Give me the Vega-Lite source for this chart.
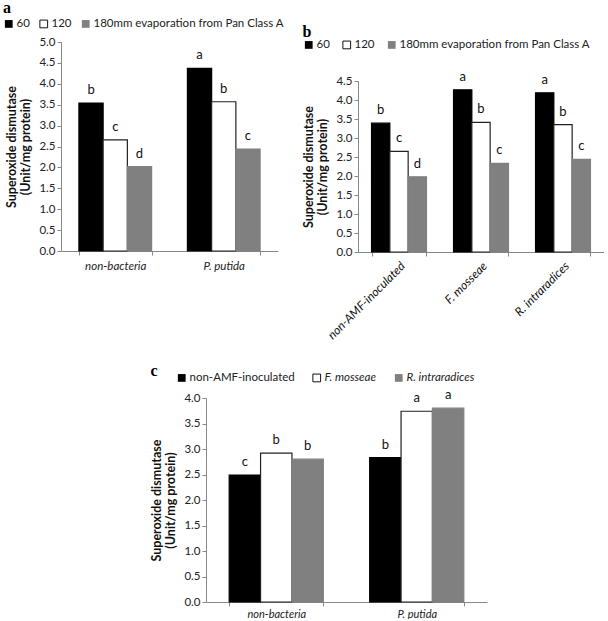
{
  "$schema": "https://vega.github.io/schema/vega-lite/v6.json",
  "padding": {"left": 3, "top": 0, "right": 0, "bottom": 0},
  "config": {
    "font": "Lato",
    "view": {"stroke": null},
    "axis": {"domainColor": "#888", "tickColor": "#888", "labelColor": "#222", "labelFontSize": 11.5, "titleFontSize": 12.5, "titleFontWeight": "bold", "titleColor": "#111", "grid": false, "tickSize": 4, "labelFont": "Lato", "titleFont": "Lato"},
    "legend": {"labelFontSize": 11.5, "labelFont": "Lato", "labelColor": "#222", "labelLimit": 400},
    "title": {"font": "Liberation Serif", "fontWeight": "bold", "fontSize": 16, "anchor": "start", "color": "#000"}
  },
  "datasets": {
    "a": [
      {"group": "non-bacteria", "level": "60", "value": 3.54, "letter": "b"},
      {"group": "non-bacteria", "level": "120", "value": 2.66, "letter": "c"},
      {"group": "non-bacteria", "level": "180mm evaporation from Pan Class A", "value": 2.02, "letter": "d"},
      {"group": "P. putida", "level": "60", "value": 4.37, "letter": "a"},
      {"group": "P. putida", "level": "120", "value": 3.57, "letter": "b"},
      {"group": "P. putida", "level": "180mm evaporation from Pan Class A", "value": 2.44, "letter": "c"}
    ],
    "b": [
      {"group": "non-AMF-inoculated", "level": "60", "value": 3.39, "letter": "b"},
      {"group": "non-AMF-inoculated", "level": "120", "value": 2.65, "letter": "c"},
      {"group": "non-AMF-inoculated", "level": "180mm evaporation from Pan Class A", "value": 1.98, "letter": "d"},
      {"group": "F. mosseae", "level": "60", "value": 4.27, "letter": "a"},
      {"group": "F. mosseae", "level": "120", "value": 3.41, "letter": "b"},
      {"group": "F. mosseae", "level": "180mm evaporation from Pan Class A", "value": 2.33, "letter": "c"},
      {"group": "R. intraradices", "level": "60", "value": 4.19, "letter": "a"},
      {"group": "R. intraradices", "level": "120", "value": 3.35, "letter": "b"},
      {"group": "R. intraradices", "level": "180mm evaporation from Pan Class A", "value": 2.44, "letter": "c"}
    ],
    "c": [
      {"group": "non-bacteria", "level": "non-AMF-inoculated", "value": 2.49, "letter": "c"},
      {"group": "non-bacteria", "level": "F. mosseae", "value": 2.92, "letter": "b"},
      {"group": "non-bacteria", "level": "R. intraradices", "value": 2.8, "letter": "b"},
      {"group": "P. putida", "level": "non-AMF-inoculated", "value": 2.83, "letter": "b"},
      {"group": "P. putida", "level": "F. mosseae", "value": 3.74, "letter": "a"},
      {"group": "P. putida", "level": "R. intraradices", "value": 3.8, "letter": "a"}
    ],
    "spacer": [{"k": 1}]
  },
  "spacing": 22,
  "resolve": {"scale": {"fill": "independent", "stroke": "independent", "xOffset": "independent", "x": "independent", "y": "independent"}, "legend": {"fill": "independent", "stroke": "independent"}},
  "vconcat": [
    {
      "spacing": 17,
      "resolve": {"scale": {"fill": "independent", "stroke": "independent", "xOffset": "independent", "x": "independent", "y": "independent"}, "legend": {"fill": "independent", "stroke": "independent"}},
      "hconcat": [
        {
          "title": {"text": "a", "offset": 2},
          "data": {"name": "a"},
          "width": 217,
          "height": 209,
          "encoding": {
            "x": {"field": "group", "type": "nominal", "sort": ["non-bacteria", "P. putida"], "scale": {"paddingInner": 0.33, "paddingOuter": 0.165}, "axis": {"title": null, "labelAngle": 0, "labelFontStyle": "italic", "tickBand": "extent", "labelPadding": 5}},
            "xOffset": {"field": "level", "type": "nominal", "sort": ["60", "120", "180mm evaporation from Pan Class A"], "scale": {"paddingInner": 0, "paddingOuter": 0}},
            "y": {"field": "value", "type": "quantitative", "scale": {"domain": [0, 5]}, "axis": {"title": ["Superoxide dismutase", "(Unit/mg protein)"], "values": [0, 0.5, 1, 1.5, 2, 2.5, 3, 3.5, 4, 4.5, 5], "format": ".1f", "titlePadding": 6}}
          },
          "layer": [
            {
              "mark": {"type": "bar", "strokeWidth": 1.2},
              "encoding": {
                "fill": {"field": "level", "type": "nominal", "sort": ["60", "120", "180mm evaporation from Pan Class A"], "scale": {"range": ["#000000", "#ffffff", "#808080"]}, "legend": {"title": null, "orient": "none", "direction": "horizontal", "legendX": -58, "legendY": -24, "symbolType": "square", "symbolSize": 60, "columnPadding": 7, "labelOffset": 2, "encode": {"symbols": {"update": {"stroke": {"signal": "datum.value === '120' ? '#111' : 'transparent'"}, "strokeWidth": {"value": 1}}}}}},
                "stroke": {"field": "level", "type": "nominal", "sort": ["60", "120", "180mm evaporation from Pan Class A"], "scale": {"range": ["#000000", "#222222", "#808080"]}, "legend": null}
              }
            },
            {
              "mark": {"type": "text", "baseline": "bottom", "dy": -6, "fontSize": 13, "color": "#111"},
              "encoding": {"text": {"field": "letter"}}
            }
          ]
        },
        {
          "title": {"text": "b", "offset": -1},
          "data": {"name": "b"},
          "width": 246,
          "height": 210,
          "encoding": {
            "x": {"field": "group", "type": "nominal", "sort": ["non-AMF-inoculated", "F. mosseae", "R. intraradices"], "scale": {"paddingInner": 0.33, "paddingOuter": 0.165}, "axis": {"title": null, "labelAngle": -45, "labelFontStyle": "italic", "labelFontSize": 12, "labelColor": "#111", "tickBand": "extent", "labelPadding": 4}},
            "xOffset": {"field": "level", "type": "nominal", "sort": ["60", "120", "180mm evaporation from Pan Class A"], "scale": {"paddingInner": 0, "paddingOuter": 0}},
            "y": {"field": "value", "type": "quantitative", "scale": {"domain": [0, 4.5], "range": [210, 39]}, "axis": {"title": ["Superoxide dismutase", "(Unit/mg protein)"], "values": [0, 0.5, 1, 1.5, 2, 2.5, 3, 3.5, 4, 4.5], "format": ".1f", "titlePadding": 6}}
          },
          "layer": [
            {
              "mark": {"type": "bar", "strokeWidth": 1.2},
              "encoding": {
                "fill": {"field": "level", "type": "nominal", "sort": ["60", "120", "180mm evaporation from Pan Class A"], "scale": {"range": ["#000000", "#ffffff", "#808080"]}, "legend": {"title": null, "orient": "none", "direction": "horizontal", "legendX": -55, "legendY": -3, "symbolType": "square", "symbolSize": 60, "columnPadding": 10, "labelOffset": 2, "encode": {"symbols": {"update": {"stroke": {"signal": "datum.value === '120' ? '#111' : 'transparent'"}, "strokeWidth": {"value": 1}}}}}},
                "stroke": {"field": "level", "type": "nominal", "sort": ["60", "120", "180mm evaporation from Pan Class A"], "scale": {"range": ["#000000", "#222222", "#808080"]}, "legend": null}
              }
            },
            {
              "mark": {"type": "text", "baseline": "bottom", "dy": -6, "fontSize": 13, "color": "#111"},
              "encoding": {"text": {"field": "letter"}}
            }
          ]
        }
      ]
    },
    {
      "spacing": 0,
      "resolve": {"scale": {"fill": "independent", "stroke": "independent", "xOffset": "independent", "x": "independent", "y": "independent"}, "legend": {"fill": "independent", "stroke": "independent"}},
      "hconcat": [
        {
          "data": {"name": "spacer"},
          "width": 89,
          "height": 10,
          "mark": {"type": "point", "opacity": 0},
          "encoding": {}
        },
        {
          "title": {"text": "c", "offset": -7},
          "data": {"name": "c"},
          "width": 281,
          "height": 204,
          "encoding": {
            "x": {"field": "group", "type": "nominal", "sort": ["non-bacteria", "P. putida"], "scale": {"paddingInner": 0.33, "paddingOuter": 0.165}, "axis": {"title": null, "labelAngle": 0, "labelFontStyle": "italic", "labelFontSize": 11, "tickBand": "extent", "labelPadding": 2}},
            "xOffset": {"field": "level", "type": "nominal", "sort": ["non-AMF-inoculated", "F. mosseae", "R. intraradices"], "scale": {"paddingInner": 0, "paddingOuter": 0}},
            "y": {"field": "value", "type": "quantitative", "scale": {"domain": [0, 4]}, "axis": {"title": ["Superoxide dismutase", "(Unit/mg protein)"], "values": [0, 0.5, 1, 1.5, 2, 2.5, 3, 3.5, 4], "format": ".1f", "titlePadding": 6}}
          },
          "layer": [
            {
              "mark": {"type": "bar", "strokeWidth": 1.2},
              "encoding": {
                "fill": {"field": "level", "type": "nominal", "sort": ["non-AMF-inoculated", "F. mosseae", "R. intraradices"], "scale": {"range": ["#000000", "#ffffff", "#808080"]}, "legend": {"title": null, "orient": "none", "direction": "horizontal", "legendX": -30, "legendY": -26, "symbolType": "square", "symbolSize": 60, "columnPadding": 15, "labelOffset": 2, "encode": {"labels": {"update": {"fontStyle": {"signal": "datum.label === 'non-AMF-inoculated' ? 'normal' : 'italic'"}}}, "symbols": {"update": {"stroke": {"signal": "datum.value === 'F. mosseae' ? '#111' : 'transparent'"}, "strokeWidth": {"value": 1}}}}}},
                "stroke": {"field": "level", "type": "nominal", "sort": ["non-AMF-inoculated", "F. mosseae", "R. intraradices"], "scale": {"range": ["#000000", "#222222", "#808080"]}, "legend": null}
              }
            },
            {
              "mark": {"type": "text", "baseline": "bottom", "dy": -6, "fontSize": 13, "color": "#111"},
              "encoding": {"text": {"field": "letter"}}
            }
          ]
        }
      ]
    }
  ]
}
